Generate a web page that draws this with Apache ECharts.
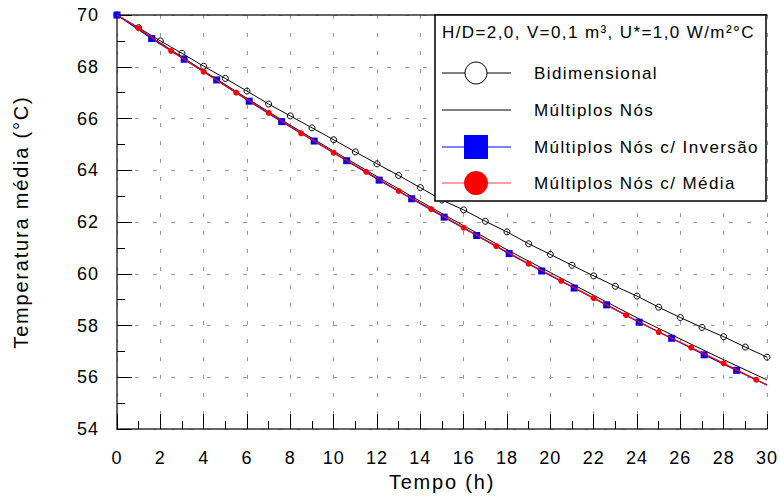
<!DOCTYPE html>
<html>
<head>
<meta charset="utf-8">
<script src="https://cdn.jsdelivr.net/npm/echarts@6/dist/echarts.min.js"></script>
<style>
html,body{margin:0;padding:0;background:#fff}
#c{width:780px;height:497px}
#c text{letter-spacing:1.4px}
#c text[style*="18px"]{letter-spacing:1px}
#c text[style*="20px"]{letter-spacing:1.8px}
</style>
</head>
<body>
<div id="c"></div>
<script>
// ---- data ----
const xTicks = [0,2,4,6,8,10,12,14,16,18,20,22,24,26,28,30];
const yTicks = [54,56,58,60,62,64,66,68,70];

const bidimTime = [0,1,2,3,4,5,6,7,8,9,10,11,12,13,14,15,16,17,18,19,20,21,22,23,24,25,26,27,28,29,30];
const bidimTemp = [70.0,69.51,69.00,68.52,68.02,67.55,67.06,66.56,66.10,65.64,65.18,64.71,64.25,63.80,63.33,62.85,62.47,62.03,61.62,61.16,60.75,60.33,59.92,59.52,59.14,58.71,58.31,57.93,57.57,57.17,56.78];

const multTime = [0,2,4,6,8,10,12,14,16,18,20,22,24,26,28,30];
const multTemp = [70.0,68.92,67.84,66.78,65.74,64.74,63.76,62.80,61.86,60.93,60.05,59.17,58.30,57.48,56.68,55.90];

const invTime = [0,1.6,3.1,4.6,6.1,7.6,9.1,10.6,12.1,13.6,15.1,16.6,18.1,19.6,21.1,22.6,24.1,25.6,27.1,28.6,30];
const invTemp = [70.0,69.09,68.29,67.49,66.67,65.88,65.13,64.37,63.62,62.90,62.19,61.48,60.78,60.11,59.45,58.80,58.13,57.51,56.87,56.27,55.70];

const medTime = [0,1,2.5,4,5.5,7,8.5,10,11.5,13,14.5,16,17.5,19,20.5,22,23.5,25,26.5,28,29.5,30];
const medTemp = [70.0,69.49,68.61,67.81,67.00,66.22,65.43,64.68,63.94,63.20,62.50,61.78,61.07,60.39,59.73,59.06,58.40,57.75,57.15,56.54,55.91,55.71];

const seriesNames = ['Bidimensional','Múltiplos Nós','Múltiplos Nós c/ Inversão','Múltiplos Nós c/ Média'];
const legendTitle = 'H/D=2,0, V=0,1 m³, U*=1,0 W/m²°C';
const xName = 'Tempo (h)';
const yName = 'Temperatura média (°C)';

// ---- build ----
const pairs = (t, v) => t.map((x, i) => [x, v[i]]);
const FONT = 'Liberation Sans, Arial, sans-serif';
const chart = echarts.init(document.getElementById('c'), null, {renderer: 'svg'});

const gridDash = {color: '#9a9a9a', width: 1, type: [4, 14], dashOffset: 0};

const lgX0 = 442, lgX1 = 511, lgXm = 476, lgTx = 534;
const rows = [73, 110, 147, 183];
const noEnd = (arr, first, last) => arr.map((p, i, a) => ((first && i === 0) || (last && i === a.length - 1)) ? {value: p, symbol: 'none'} : p);

chart.setOption({
  animation: false,
  backgroundColor: '#fff',
  grid: {left: 117, right: 12, top: 15, bottom: 64, containLabel: false},
  xAxis: [{
    type: 'value', min: 0, max: 30, interval: 2,
    name: xName, nameLocation: 'middle', nameGap: 40,
    nameTextStyle: {fontFamily: FONT, fontSize: 20, color: '#000'},
    axisLine: {show: true, onZero: false, lineStyle: {color: '#333', width: 1.5}},
    axisTick: {show: true, inside: true, length: 15, lineStyle: {color: '#000', width: 1}},
    minorTick: {show: true, splitNumber: 2, length: 8, lineStyle: {color: '#000', width: 1}},
    axisLabel: {fontFamily: FONT, fontSize: 18, color: '#000', margin: 20,
      formatter: v => xTicks.includes(v) ? String(v) : ''},
    splitLine: {show: true, lineStyle: gridDash}
  }, {
    type: 'value', position: 'top', min: 0, max: 30,
    axisLine: {show: true, lineStyle: {color: '#333', width: 1.5}},
    axisTick: {show: false}, axisLabel: {show: false}, splitLine: {show: false}
  }],
  yAxis: {
    type: 'value', min: 54, max: 70, interval: 2,
    name: yName, nameLocation: 'middle', nameGap: 86,
    nameTextStyle: {fontFamily: FONT, fontSize: 20, color: '#000'},
    axisLine: {show: true, onZero: false, lineStyle: {color: '#333', width: 1.5}},
    axisTick: {show: true, inside: true, length: 15, lineStyle: {color: '#000', width: 1}},
    minorTick: {show: true, splitNumber: 2, length: 8, lineStyle: {color: '#000', width: 1}},
    axisLabel: {fontFamily: FONT, fontSize: 18, color: '#000', margin: 18,
      formatter: v => yTicks.includes(v) ? String(v) : ''},
    splitLine: {show: true, lineStyle: gridDash}
  },
  series: [
    {
      name: seriesNames[0], type: 'line', data: pairs(bidimTime, bidimTemp),
      symbol: 'circle', symbolSize: 6, showAllSymbol: true,
      lineStyle: {color: '#000', width: 1},
      itemStyle: {color: 'rgba(255,255,255,0)', borderColor: '#000', borderWidth: 1},
      z: 2
    },
    {
      name: seriesNames[1], type: 'line', data: pairs(multTime, multTemp),
      symbol: 'none',
      lineStyle: {color: '#000', width: 1},
      z: 3
    },
    {
      name: seriesNames[2], type: 'line', data: noEnd(pairs(invTime, invTemp), false, true),
      symbol: 'rect', symbolSize: 7, showAllSymbol: true,
      lineStyle: {color: '#0000ff', width: 1.2},
      itemStyle: {color: '#0000ff'},
      z: 4
    },
    {
      name: seriesNames[3], type: 'line', data: noEnd(pairs(medTime, medTemp), true, true),
      symbol: 'circle', symbolSize: 6, showAllSymbol: true,
      lineStyle: {color: '#ff0000', width: 1.2},
      itemStyle: {color: '#ff0000'},
      z: 5
    }
  ],
  graphic: [
    {type: 'rect', z: 100, shape: {x: 435, y: 15, width: 331, height: 186},
      style: {fill: '#fff', stroke: '#000', lineWidth: 1.5}},
    {type: 'text', z: 101, x: 442, y: 32,
      style: {text: legendTitle, fontFamily: FONT, fontSize: 17, fill: '#000', verticalAlign: 'middle'}},
    {type: 'line', z: 101, shape: {x1: lgX0, y1: rows[0], x2: lgX1, y2: rows[0]}, style: {stroke: '#000', lineWidth: 1}},
    {type: 'circle', z: 102, shape: {cx: lgXm, cy: rows[0], r: 11}, style: {fill: '#fff', stroke: '#000', lineWidth: 1}},
    {type: 'text', z: 101, x: lgTx, y: rows[0], style: {text: seriesNames[0], fontFamily: FONT, fontSize: 17, fill: '#000', verticalAlign: 'middle'}},
    {type: 'line', z: 101, shape: {x1: lgX0, y1: rows[1], x2: lgX1, y2: rows[1]}, style: {stroke: '#000', lineWidth: 1}},
    {type: 'text', z: 101, x: lgTx, y: rows[1], style: {text: seriesNames[1], fontFamily: FONT, fontSize: 17, fill: '#000', verticalAlign: 'middle'}},
    {type: 'line', z: 101, shape: {x1: lgX0, y1: rows[2], x2: lgX1, y2: rows[2]}, style: {stroke: '#0000ff', lineWidth: 1}},
    {type: 'rect', z: 102, shape: {x: lgXm - 12, y: rows[2] - 12, width: 24, height: 24}, style: {fill: '#0000ff'}},
    {type: 'text', z: 101, x: lgTx, y: rows[2], style: {text: seriesNames[2], fontFamily: FONT, fontSize: 17, fill: '#000', verticalAlign: 'middle'}},
    {type: 'line', z: 101, shape: {x1: lgX0, y1: rows[3], x2: lgX1, y2: rows[3]}, style: {stroke: '#ff4040', lineWidth: 1}},
    {type: 'circle', z: 102, shape: {cx: lgXm, cy: rows[3], r: 12}, style: {fill: '#ff0000'}},
    {type: 'text', z: 101, x: lgTx, y: rows[3], style: {text: seriesNames[3], fontFamily: FONT, fontSize: 17, fill: '#000', verticalAlign: 'middle'}}
  ]
});
</script>
</body>
</html>
